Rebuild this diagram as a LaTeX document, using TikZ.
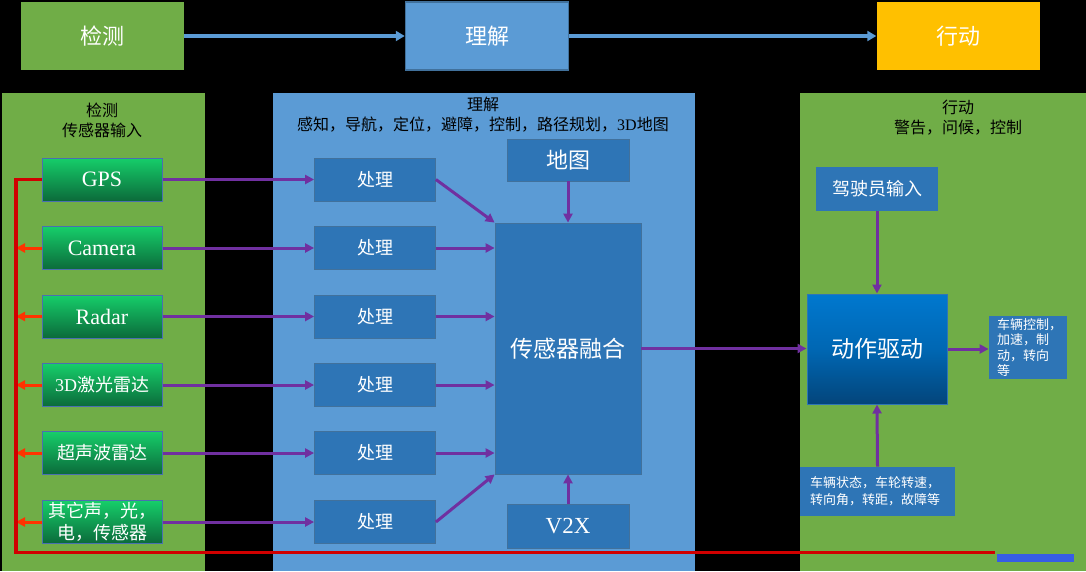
\documentclass[tikz,border=0pt]{standalone}
\usepackage{fontspec}
\setmainfont{Liberation Serif}
\newfontfamily\cjk{Noto Sans CJK SC}
\usetikzlibrary{arrows.meta}
\definecolor{pgreen}{HTML}{70AD47}
\definecolor{pblue}{HTML}{5B9BD5}
\definecolor{bblue}{HTML}{2E75B6}
\definecolor{bborder}{HTML}{41719C}
\definecolor{ppurple}{HTML}{7030A0}
\definecolor{rred}{HTML}{D00000}
\definecolor{rorange}{HTML}{FF3300}
\definecolor{tyellow}{HTML}{FFC000}
\definecolor{sgtop}{HTML}{16CE6A}
\definecolor{sgbot}{HTML}{0B6A3A}
\definecolor{sborder}{HTML}{4A6FB0}
\definecolor{atop}{HTML}{0078CF}
\definecolor{amid}{HTML}{0067B3}
\definecolor{abot}{HTML}{03457B}
\newcommand{\fs}[2]{\fontsize{#1}{#2}\selectfont}
\tikzset{
  topbox/.style={inner sep=0pt, minimum width=163pt, minimum height=68pt, text=white, font=\cjk\fs{22}{26}},
  sensor/.style={draw=sborder, line width=1pt, top color=sgtop, bottom color=sgbot, inner sep=0pt,
    minimum width=120pt, minimum height=43pt, text=white, align=center},
  procbox/.style={fill=bblue, draw=bborder, line width=0.8pt, inner sep=0pt, text=white},
  ptitle/.style={inner sep=0pt, align=center, text=black, font=\cjk\fs{16}{20}},
  parrow/.style={draw=ppurple, line width=3pt, -{Triangle[length=9pt,width=9pt]}},
  rarrow/.style={draw=rorange, line width=3pt, -{Triangle[length=9pt,width=9pt]}},
  redline/.style={draw=rred, line width=3.2pt},
  barrow/.style={draw=pblue, line width=4pt, -{Triangle[length=9pt,width=10pt]}}
}
\begin{document}
\begin{tikzpicture}[x=1pt,y=-1pt]
\useasboundingbox (0,0) rectangle (1086,571);
\fill[black] (0,0) rectangle (1086,571);
% top row
\node[topbox, fill=pgreen] (tdet) at (102.5,36) {检测};
\node[topbox, fill=pblue, draw=bborder, line width=1.5pt] (tund) at (487,36) {理解};
\node[topbox, fill=tyellow] (tact) at (958,36) {行动};
\draw[barrow] (tdet) -- (tund);
\draw[barrow] (tund) -- (tact);
% panels
\fill[pgreen] (2,93) rectangle (205,571);
\fill[pblue] (273,93) rectangle (695,571);
\fill[pgreen] (800,93) rectangle (1086,571);
\node[ptitle] (t1) at (102,120) {检测\\传感器输入};
\node[ptitle] (t2) at (483,115) {理解\\感知，导航，定位，避障，控制，路径规划，{\rmfamily 3D}地图};
\node[ptitle] (t3) at (958,118) {行动\\警告，问候，控制};
% sensors
\node[sensor, font=\fs{22}{26}] (s1) at (102,179.5) {GPS};
\node[sensor, font=\fs{22}{26}] (s2) at (102,248) {Camera};
\node[sensor, font=\fs{22}{26}] (s3) at (102,316.5) {Radar};
\node[sensor, font=\fs{18}{22}] (s4) at (102,385) {3D{\cjk 激光雷达}};
\node[sensor, font=\cjk\fs{18}{22}] (s5) at (102,453) {超声波雷达};
\node[sensor, font=\cjk\fs{18}{22}] (s6) at (102,522) {其它声，光，\\电，传感器};
% processing
\foreach \i/\y in {1/179.5,2/248,3/316.5,4/385,5/453,6/522}{
  \node[procbox, minimum width=121pt, minimum height=43pt, font=\cjk\fs{18}{22}] (p\i) at (375,\y) {处理};
}
\node[procbox, minimum width=146pt, minimum height=251pt, font=\cjk\fs{23}{27}] (fus) at (568,348.5) {传感器融合};
\node[procbox, minimum width=122pt, minimum height=42pt, font=\cjk\fs{22}{26}] (map) at (568,160) {地图};
\node[procbox, minimum width=122pt, minimum height=44pt, font=\fs{23}{27}] (v2x) at (568,526) {V2X};
% action
\node[draw=bblue, line width=1pt, top color=atop, bottom color=abot, middle color=amid, inner sep=0pt,
  minimum width=140pt, minimum height=110pt, text=white, font=\cjk\fs{23}{27}] (act) at (877,349) {动作驱动};
\node[procbox, draw=none, minimum width=122pt, minimum height=44pt, font=\cjk\fs{18}{22}] (drv) at (877,189) {驾驶员输入};
\node[procbox, draw=none, minimum width=78pt, minimum height=63pt, align=left, text width=62pt,
  font=\cjk\fs{13}{15.5}] (out) at (1028,347.5) {车辆控制，\\加速，制\\动，转向\\等};
\node[procbox, draw=none, minimum width=155pt, minimum height=49pt, align=left, text width=135pt,
  font=\cjk\fs{13}{17}] (st) at (877.5,491.5) {车辆状态，车轮转速，\\转向角，转距，故障等};
% red feedback line
\coordinate (rc) at (16,179.5);
\coordinate (rb) at (16,552.5);
\coordinate (re) at (995,552.5);
\foreach \i in {2,...,6}{
  \draw[rarrow] (s\i.west) -- (s\i.west -| rc);
}
\draw[redline] (s1.west) -- (rc) -- (rb) -- (re);
\fill[pblue!60!blue] (997,554) rectangle (1074,562);
% purple arrows
\foreach \i in {1,...,6}{
  \draw[parrow] (s\i.east) -- (p\i.west);
}
\draw[parrow] (p1.east) -- (fus.north west);
\foreach \i in {2,...,5}{
  \draw[parrow] (p\i.east) -- (p\i.east -| fus.west);
}
\draw[parrow] (p6.east) -- (fus.south west);
\draw[parrow] (map.south) -- (fus.north);
\draw[parrow] (v2x.north) -- (fus.south);
\draw[parrow] (fus.east) -- (fus.east -| act.west);
\draw[parrow] (drv.south) -- (act.north);
\draw[parrow] (st.north) -- (act.south);
\draw[parrow] (act.east) -- (act.east -| out.west);
\end{tikzpicture}
\end{document}
